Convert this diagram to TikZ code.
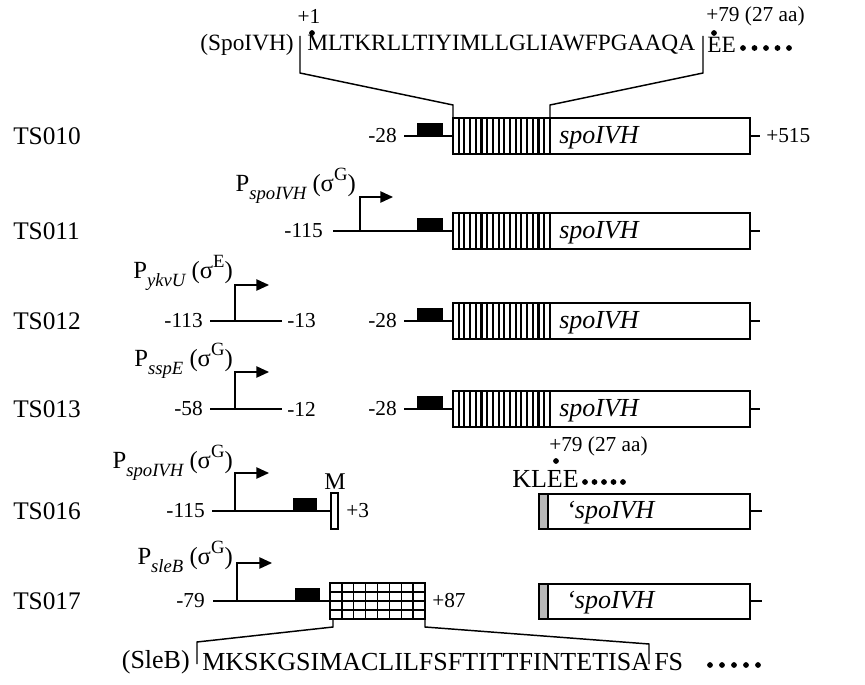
\documentclass[tikz,border=0pt]{standalone}
\usepackage{fontspec}
\setmainfont{Liberation Serif}
\usetikzlibrary{arrows.meta}
\newcommand{\subx}[1]{\raisebox{-0.32em}{\fontsize{14}{16}\selectfont\itshape #1}}
\newcommand{\supx}[1]{\raisebox{0.45em}{\fontsize{14}{16}\selectfont #1}}
\newcommand{\promlbl}[2]{P\subx{#1} (σ\supx{#2})}
\begin{document}
\begin{tikzpicture}[x=0.75pt,y=-0.75pt,
  ln/.style={line width=1.1pt},
  bx/.style={draw,line width=1.1pt},
  lbl/.style={font=\fontsize{19}{22}\selectfont, anchor=west, inner sep=0pt},
  num/.style={font=\fontsize{16}{19}\selectfont, inner sep=0pt},
  gene/.style={font=\fontsize{19.5}{22}\selectfont\itshape, anchor=west, inner sep=0pt},
  seqA/.style={font=\fontsize{17.5}{20}\selectfont, anchor=west, inner sep=0pt},
  seqB/.style={font=\fontsize{19.5}{22}\selectfont, anchor=west, inner sep=0pt},
  prom/.style={font=\fontsize{18.5}{21}\selectfont, inner sep=0pt, anchor=east},
  arr/.style={line width=1.1pt, -{Triangle[length=9.5pt,width=8.5pt]}},
  dot/.style={fill=black, circle, inner sep=0pt, minimum size=4.3pt}
]
\useasboundingbox (0,0) rectangle (865,685);

% ---------- top sequence (SpoIVH) ----------
\node[seqA, anchor=east] (sponame) at (294,45) {(SpoIVH)};
\node[seqA] (seqtop) at (307,45) {MLTKRLLTIYIMLLGLIAWFPGAAQA};
\node[seqA] (ee) at (707,45) {EE};
\foreach \i in {0,...,4} \node[dot] (tdot\i) at ({743+\i*11.5},48) {};
\node[num] (plus1) at (309,16) {+1};
\node[dot] (d1) at (312,33) {};
\node[num, anchor=west] (p79a) at (706,16) {+79 (27 aa)};
\node[dot] (d79a) at (714,33) {};
\draw[ln] (300,36) -- (300,73) -- (453,105) -- (453,118);
\draw[ln] (703,36) -- (703,73) -- (550,105) -- (550,118);

% ---------- full spoIVH constructs ----------
\foreach \nm/\y in {TS010/136, TS011/231, TS012/321, TS013/409}{
  \node[lbl] (lab\nm) at (13,\y) {\nm};
  \fill (417,{\y-13}) rectangle (443,\y);
  \draw[bx] (453,{\y-18}) rectangle (750,{\y+18});
  \foreach \k in {1,...,16} \draw[line width=1.6pt] ({453+\k*5.7},{\y-18}) -- ({453+\k*5.7},{\y+18});
  \draw[line width=1.8pt] (550,{\y-18}) -- (550,{\y+18});
  \node[gene] (g\nm) at (559,{\y+2}) {spoIVH};
  \draw[ln] (750,\y) -- (760,\y);
}
% TS010
\node[num, anchor=east] (m28a) at (397,136) {-28};
\draw[ln] (404,136) -- (453,136);
\node[num, anchor=west] (p515) at (766,136) {+515};
% TS011
\node[num, anchor=east] (m115a) at (323,231) {-115};
\draw[ln] (333,231) -- (453,231);
\draw[arr] (360,231) -- (360,197) -- (393,197);
\node[prom] (pspo1) at (356,186) {\promlbl{spoIVH}{G}};
% TS012
\node[num, anchor=east] (m113) at (203,321) {-113};
\draw[ln] (210,321) -- (282,321);
\node[num, anchor=west] (m13) at (287,321) {-13};
\draw[arr] (235,321) -- (235,285) -- (269,285);
\node[prom] (pykv) at (233,273) {\promlbl{ykvU}{E}};
\node[num, anchor=east] (m28b) at (397,321) {-28};
\draw[ln] (404,321) -- (453,321);
% TS013
\node[num, anchor=east] (m58) at (203,409) {-58};
\draw[ln] (210,409) -- (282,409);
\node[num, anchor=west] (m12) at (287,409) {-12};
\draw[arr] (235,409) -- (235,372) -- (269,372);
\node[prom] (pssp) at (233,361) {\promlbl{sspE}{G}};
\node[num, anchor=east] (m28c) at (397,409) {-28};
\draw[ln] (404,409) -- (453,409);

% ---------- TS016 ----------
\node[lbl] (labTS016) at (13,511) {TS016};
\node[num, anchor=east] (m115b) at (205,511) {-115};
\draw[ln] (212,511) -- (331,511);
\draw[arr] (235,511) -- (235,473) -- (269,473);
\node[prom] (pspo2) at (233,463) {\promlbl{spoIVH}{G}};
\fill (293,498) rectangle (317,511);
\draw[bx, fill=white] (331,493) rectangle (338,529);
\node[num, font=\fontsize{18}{20}\selectfont] (mM) at (335,482) {M};
\node[num, anchor=west] (p3) at (346,511) {+3};
\node[num, anchor=west] (p79b) at (549,446) {+79 (27 aa)};
\node[dot] (d79b) at (556,461) {};
\node[seqB] (klee) at (512,479) {KLEE};
\foreach \i in {0,...,4} \node[dot] (kdot\i) at ({585+\i*9.5},482) {};
\fill[gray!55] (539,494) rectangle (547,529);
\draw[line width=2pt] (548,494) -- (548,529);
\draw[bx] (539,494) rectangle (750,529);
\node[gene] (gTS016) at (566,513) {‘spoIVH};
\draw[ln] (750,511) -- (762,511);

% ---------- TS017 ----------
\node[lbl] (labTS017) at (13,601) {TS017};
\node[num, anchor=east] (m79) at (205,601) {-79};
\draw[ln] (213,601) -- (330,601);
\draw[arr] (237,601) -- (237,563) -- (272,563);
\node[prom] (psle) at (233,557) {\promlbl{sleB}{G}};
\fill (295,588) rectangle (320,601);
\draw[bx, fill=white] (330,583) rectangle (425,619);
\foreach \k in {1,...,7} \draw[line width=1pt] ({330+\k*11.875},583) -- ({330+\k*11.875},619);
\foreach \k in {1,...,3} \draw[line width=1pt] (330,{583+\k*9}) -- (425,{583+\k*9});
\node[num, anchor=west] (p87) at (432,601) {+87};
\fill[gray!55] (539,584) rectangle (547,619);
\draw[line width=2pt] (548,584) -- (548,619);
\draw[bx] (539,584) rectangle (750,619);
\node[gene] (gTS017) at (566,603) {‘spoIVH};
\draw[ln] (750,601) -- (762,601);

% ---------- bottom sequence (SleB) ----------
\node[seqB, anchor=east] (slename) at (190,662) {(SleB)};
\node[seqB] (seqbot) at (202,662) {MKSKGSIMACLILFSFTITTFINTETISA};
\node[seqB] (fs) at (654,662) {FS};
\foreach \i in {0,...,4} \node[dot] (bdot\i) at ({710+\i*12},665) {};
\draw[ln] (333,619) -- (333,627) -- (197,642) -- (197,664);
\draw[ln] (425,619) -- (425,627) -- (649,644) -- (649,664);
\end{tikzpicture}
\end{document}
